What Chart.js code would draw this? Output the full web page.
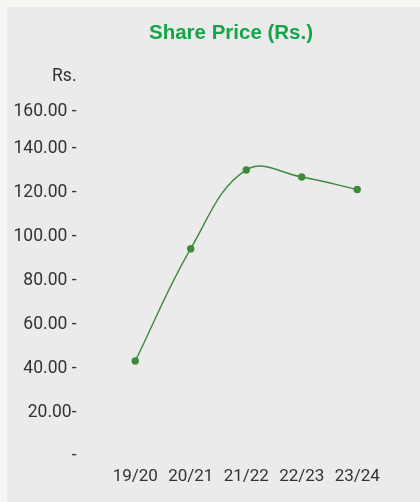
<!DOCTYPE html>
<html>
<head>
<meta charset="utf-8">
<script src="https://cdn.jsdelivr.net/npm/chart.js@4"></script>
<style>
  html, body { margin: 0; padding: 0; background: #f6f7f3; }
  #wrap { position: absolute; left: 7px; top: 7px; width: 413px; height: 495px; background: #ebebeb; }
</style>
</head>
<body>
<div id="wrap"><canvas id="priceChart" width="413" height="495"></canvas></div>
<script>
// Share price per financial year
const years = ["19/20", "20/21", "21/22", "22/23", "23/24"];
const sharePrice = [43.3, 94.5, 130.4, 127.2, 121.5];
const yTicks = [0, 20, 40, 60, 80, 100, 120, 140, 160];

// tick text as printed in the annual report; the top label sits a little low
function tickText(v) {
  if (v === 0) return "-";
  if (v === 20) return "20.00-";
  if (v === 160) return ["", "160.00 -"];
  return v.toFixed(2) + " -";
}

// heading and "Rs." unit label, drawn in the space kept free above the plot
const headings = {
  id: "headings",
  afterDraw(chart) {
    const y = chart.scales.y;
    const ctx = chart.ctx;
    ctx.save();
    ctx.textBaseline = "middle";

    ctx.font = "bold 20.5px 'Liberation Sans'";
    ctx.fillStyle = "#17a34a";
    ctx.textAlign = "center";
    ctx.fillText("Share Price (Rs.)", 224, 26);

    ctx.font = "17.5px Roboto";
    ctx.fillStyle = "#333";
    ctx.textAlign = "right";
    ctx.fillText("Rs.", y.right - 31, 70);
    ctx.restore();
  }
};

const ctx = document.getElementById("priceChart").getContext("2d");
const priceChart = new Chart(ctx, {
  type: "line",
  data: {
    labels: years,
    datasets: [{
      label: "Share Price",
      data: sharePrice,
      borderColor: "#3d8a3a",
      backgroundColor: "#3d8a3a",
      borderWidth: 1.4,
      tension: 0.4,
      pointRadius: 3.7,
      pointBorderWidth: 0,
      fill: false
    }]
  },
  options: {
    responsive: false,
    animation: false,
    layout: { padding: { left: 3, right: 35, top: 98, bottom: 0 } },
    plugins: {
      legend: { display: false },
      tooltip: { enabled: false },
      title: { display: false }
    },
    scales: {
      x: {
        offset: true,
        afterFit(scale) { scale.height = 46; },
        grid: { display: false, drawTicks: false },
        border: { display: false },
        ticks: { color: "#333", font: { family: "Roboto", size: 17 }, padding: 11, maxRotation: 0 }
      },
      y: {
        min: 0,
        max: 160,
        afterBuildTicks(scale) { scale.ticks = yTicks.map(v => ({ value: v })); },
        afterFit(scale) { scale.width = 97.5; },
        grid: { display: false, drawTicks: false },
        border: { display: false },
        ticks: {
          color: "#333",
          font: { family: "Roboto", size: 17.5, lineHeight: 0.7 },
          padding: 31,
          callback: tickText
        }
      }
    }
  },
  plugins: [headings]
});
</script>
</body>
</html>
